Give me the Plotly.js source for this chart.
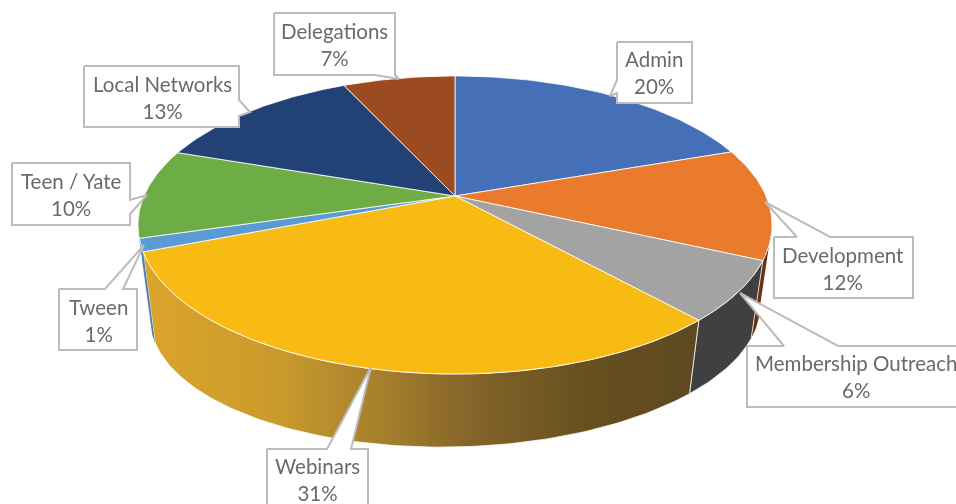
<!DOCTYPE html>
<html><head><meta charset="utf-8">
<script src="https://cdn.plot.ly/plotly-3.0.1.min.js"></script>
<style>html,body{margin:0;padding:0;background:#fff;overflow:hidden}#chart{width:956px;height:504px;filter:blur(0.4px)}</style>
</head><body><div id="chart"></div>
<script>
// Data
const categories = ['Admin','Development','Membership Outreach','Webinars','Tween','Teen / Yate','Local Networks','Delegations'];
const sliceShare = [19.7,12.1,6.5,30.8,1.4,9.7,12.9,6.9];
const percentLabels = ['20%','12%','6%','31%','1%','10%','13%','7%'];

// Styles
const topColors = ['#4570b8','#ea7a2c','#a3a3a3','#f8bb14','#5b9bd5','#6eac45','#224276','#9c4a20'];
const wallColors = ['#2f4d80','#6e3010','#404040',null,'#4a80b4','#4a7a30','#182e52','#6a3216'];
const webinarsWall = [[0,'#dcA52a'],[0.25,'#c89a2c'],[0.45,'#a27c2c'],[0.6,'#836329'],[0.8,'#66501f'],[1,'#5e4820']];

// Perspective used to lay the disc on the page
const apex = {x:455,y:196}, base = {x:455,y:286}, persp = {a:311,b:143.4,k:0.1946,baseScale:0.962,baseY:0.94,tilt:0.02};
function project(deg, lower){
  const t = deg*Math.PI/180, sx = Math.sin(t), sy = Math.cos(t), w = 1+persp.k*sy;
  const s = lower ? persp.baseScale : 1, o = lower ? base : apex, sq = lower ? persp.baseY : 1;
  const dx = s*persp.a*sx/w;
  return [o.x + dx, o.y - s*sq*persp.b*sy/w - (lower ? persp.tilt*dx : 0)];
}
function arc(d0,d1,lower){
  const n = Math.max(2,Math.ceil(Math.abs(d1-d0))), p=[];
  for(let i=0;i<=n;i++) p.push(project(d0+(d1-d0)*i/n,lower));
  return p;
}
const total = sliceShare.reduce((a,b)=>a+b,0);
let acc = 0;
const spans = sliceShare.map(v=>{const s=[acc/total*360,(acc+v)/total*360];acc+=v;return s;});
const visible = [101.2,254];

const traces = [];
function poly(pts,extra){
  traces.push(Object.assign({type:'scatter',mode:'lines',x:pts.map(p=>p[0]),y:pts.map(p=>p[1]),
    fill:'toself',hoverinfo:'skip',showlegend:false},extra));
}
// side wall
spans.forEach((s,i)=>{
  const d0=Math.max(s[0],visible[0]), d1=Math.min(s[1],visible[1]);
  if(d1<=d0) return;
  const pts = arc(d0,d1,false).concat(arc(d1,d0,true));
  pts.push(pts[0]);
  const extra = {line:{color:'rgba(255,255,255,0.75)',width:i===3||i===2?1:0}};
  if(wallColors[i]) extra.fillcolor = wallColors[i];
  else { extra.fillgradient = {type:'horizontal',colorscale:webinarsWall}; extra.fillcolor='#a27c2c'; }
  poly(pts,extra);
});
// top
spans.forEach((s,i)=>{
  const pts = [[apex.x,apex.y]].concat(arc(s[0],s[1],false)); pts.push([apex.x,apex.y]);
  poly(pts,{fillcolor:topColors[i],line:{color:'rgba(255,255,255,0.8)',width:1}});
});

// Call-out boxes: box corners, pointer root on one side and pointer tip; page layout only
const callouts = [
 {box:[617,42,692,103],root:[[617,93],[617,80]],side:'l',tip:[610,96],tx:654,ty:72},
 {box:[774,237,913,298],root:[[797,237],[830,237]],side:'t',tip:[765,202],tx:843,ty:268},
 {box:[747,346,980,407],root:[[784,346],[838,346]],side:'t',tip:[740,293],tx:856,ty:376},
 {box:[267,449,368,520],root:[[327,449],[351,449]],side:'t',tip:[371,367],tx:317,ty:479},
 {box:[59,289,137,350],root:[[105,289],[123,289]],side:'t',tip:[144,245],tx:98,ty:320},
 {box:[12,163,130,225],root:[[130,200],[130,214]],side:'r',tip:[147,195],tx:71,ty:194},
 {box:[84,66,239,127],root:[[239,100],[239,116]],side:'r',tip:[250,112],tx:162,ty:97},
 {box:[274,13,395,75],root:[[395,75],[375,75]],side:'b',tip:[399,79],tx:334,ty:44}
];
callouts.forEach(c=>{
  const [l,t,r,b]=c.box, R=c.root, T=c.tip; let p;
  if(c.side==='t') p=[[l,t],R[0],T,R[1],[r,t],[r,b],[l,b],[l,t]];
  if(c.side==='r') p=[[l,t],[r,t],R[0],T,R[1],[r,b],[l,b],[l,t]];
  if(c.side==='b') p=[[l,t],[r,t],R[0],T,R[1],[l,b],[l,t]];
  if(c.side==='l') p=[[l,t],[r,t],[r,b],[l,b],R[0],T,R[1],[l,t]];
  poly(p,{fillcolor:'#ffffff',line:{color:'#bcbcbc',width:2}});
});

const annotations = callouts.map((c,i)=>({
  xref:'x',yref:'y',x:c.tx,y:c.ty,showarrow:false,xanchor:'center',yanchor:'middle',
  text:categories[i]+'<br>'+percentLabels[i],align:'center',
  font:{family:'Lato, "Open Sans", sans-serif',size:20.5,color:'#6a6a6a'}
}));

Plotly.newPlot('chart',traces,{
  width:956,height:504,margin:{l:0,r:0,t:0,b:0},paper_bgcolor:'#fff',plot_bgcolor:'#fff',showlegend:false,
  xaxis:{range:[0,956],visible:false,fixedrange:true},
  yaxis:{range:[504,0],visible:false,fixedrange:true},
  annotations
},{displayModeBar:false,staticPlot:true});
</script></body></html>
